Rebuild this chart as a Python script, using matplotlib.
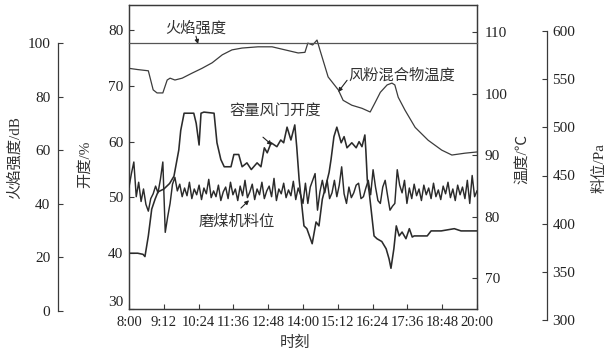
import matplotlib
matplotlib.use("Agg")
import matplotlib.pyplot as plt

plt.rcParams['font.family'] = ['Liberation Serif', 'Noto Sans CJK SC', 'DejaVu Sans']
plt.rcParams['axes.unicode_minus'] = False

# ---------------- data ----------------
tick_times = ["8:00", "9:12", "10:24", "11:36", "12:48", "14:00",
              "15:12", "16:24", "17:36", "18:48", "20:00"]

flame_times = ["8:00", "20:00"]
flame_db = [100, 100]

temp_times = ["8:00", "8:18", "8:40", "8:50", "8:58", "9:10", "9:19", "9:25", "9:35",
              "9:50", "10:10", "10:31", "10:52", "11:13", "11:33", "11:54", "12:27",
              "12:56", "13:23", "13:50", "14:04", "14:10", "14:20", "14:29", "14:35",
              "14:52", "15:13", "15:23", "15:41", "16:02", "16:19", "16:29", "16:40",
              "16:54", "17:04", "17:10", "17:17", "17:31", "17:52", "18:19", "18:47",
              "19:08", "19:35", "20:00"]
temp_c = [104.1, 103.9, 103.7, 100.6, 100.1, 100.1, 102.2, 102.5, 102.2,
          102.5, 103.3, 104.1, 105.0, 106.3, 107.1, 107.4, 107.6,
          107.6, 107.1, 106.6, 106.7, 108.2, 107.9, 108.7, 107.1,
          102.7, 100.6, 98.9, 98.1, 97.6, 97.0, 98.5, 100.2,
          101.4, 101.7, 101.4, 99.4, 97.3, 94.5, 92.4, 90.8,
          90.0, 90.3, 90.5]

valve_times = ["8:00", "8:18", "8:29", "8:33", "8:40", "8:47", "8:54", "9:00", "9:12",
               "9:24", "9:33", "9:43", "9:47", "9:54", "10:14", "10:19", "10:25",
               "10:29", "10:35", "10:56", "11:02", "11:10", "11:17", "11:31", "11:37",
               "11:47", "11:54", "12:04", "12:13", "12:25", "12:33", "12:40", "12:46",
               "12:54", "13:06", "13:14", "13:20", "13:27", "13:35", "13:43", "13:47",
               "13:52", "14:02", "14:08", "14:19", "14:27", "14:33", "14:40", "14:47",
               "14:54", "14:58", "15:04", "15:10", "15:19", "15:25", "15:31", "15:41",
               "15:50", "15:56", "16:02", "16:08", "16:10", "16:13", "16:17", "16:27",
               "16:33", "16:43", "16:52", "16:58", "17:02", "17:08", "17:13", "17:19",
               "17:25", "17:33", "17:40", "17:46", "17:50", "18:17", "18:25", "18:46",
               "19:13", "19:27", "20:00"]
valve_pct = [40.0, 40.0, 39.8, 39.4, 43.1, 47.9, 49.7, 51.0, 51.5,
             52.5, 53.8, 58.5, 62.0, 65.1, 65.1, 63.3, 59.4,
             65.1, 65.3, 65.1, 59.8, 56.8, 55.5, 55.5, 57.7,
             57.7, 55.5, 56.2, 55.0, 56.2, 55.5, 58.9, 58.0,
             59.8, 59.1, 60.3, 59.8, 62.6, 60.3, 63.0, 59.1,
             53.2, 44.9, 44.4, 41.7, 45.6, 44.9, 49.7, 52.0,
             54.5, 56.8, 60.9, 62.6, 59.8, 60.9, 58.9, 59.8,
             58.9, 60.0, 59.1, 61.2, 58.5, 53.2, 50.9, 43.1,
             42.6, 42.1, 40.8, 39.0, 37.3, 40.8, 44.9, 43.1,
             43.8, 42.6, 44.4, 42.9, 43.1, 43.1, 44.0, 44.0,
             44.4, 44.0, 44.0]

level_start = "8:00"
level_step_min = 5
level_pa = [438, 452, 464, 428, 443, 423, 436, 420, 413, 426, 431, 439,
            432, 446, 464, 391, 407, 421, 441, 448, 434, 441, 428, 437,
            429, 443, 426, 436, 430, 440, 425, 437, 431, 446, 427, 434,
            428, 440, 424, 433, 438, 426, 443, 430, 436, 424, 439, 429,
            445, 427, 433, 441, 425, 436, 430, 443, 426, 434, 439, 428,
            447, 424, 436, 431, 442, 427, 435, 429, 444, 425, 437, 430,
            421, 442, 421, 438, 445, 452, 414, 433, 445, 432, 445, 426,
            432, 445, 428, 440, 459, 431, 421, 438, 427, 432, 440, 442,
            426, 428, 437, 445, 430, 456, 438, 424, 421, 438, 445, 429,
            414, 418, 421, 456, 440, 432, 445, 421, 437, 426, 441, 429,
            436, 424, 440, 430, 437, 426, 442, 428, 435, 425, 439, 431,
            443, 427, 436, 424, 440, 430, 438, 426, 445, 421, 450, 428,
            434]


def hrs(s):
    h, m = s.split(":")
    return int(h) + int(m) / 60.0


tick_x = [hrs(s) for s in tick_times]
flame_x = [hrs(s) for s in flame_times]
temp_x = [hrs(s) for s in temp_times]
valve_x = [hrs(s) for s in valve_times]
level_x = [hrs(level_start) + i * level_step_min / 60.0 for i in range(len(level_pa))]

# ---------------- layout ----------------
W, H = 606, 356
fig = plt.figure(figsize=(W / 100, H / 100), dpi=100)
fig.patch.set_facecolor('white')


def rect(l, t, r, b):
    return [l / W, 1 - b / H, (r - l) / W, (b - t) / H]


INK = '#2b2b2b'
SPINE = '#3a3a3a'
XFS = 10.5
YFS = 11

ax = fig.add_axes(rect(129, 5, 477, 309))
axT = ax.twinx()
axF = fig.add_axes(rect(129, 43, 477, 311), sharex=ax)
axP = fig.add_axes(rect(129, 31, 477, 320), sharex=ax)
for a in (axF, axP):
    a.patch.set_visible(False)
    for s in a.spines.values():
        s.set_visible(False)
    a.xaxis.set_visible(False)

for s in ax.spines.values():
    s.set_color(SPINE)
    s.set_linewidth(0.9)
for s in axT.spines.values():
    s.set_color(SPINE)
    s.set_linewidth(0.9)

# main (opening %)
ax.set_xlim(8, 20)
ax.set_ylim(30, 84.5)
ax.set_xticks(tick_x)
ax.set_xticklabels(tick_times)
ax.set_yticks([30, 40, 50, 60, 70, 80])
ax.tick_params(axis='x', direction='in', length=3.5, width=0.8, colors=SPINE,
               labelsize=XFS, pad=5, labelcolor='#222')
ax.tick_params(axis='y', direction='in', length=3.5, width=0.8, colors=SPINE,
               labelsize=YFS, pad=4, labelcolor='#222', right=False)
ax.get_yticklabels()[0].set_va('bottom')

# temperature
axT.set_ylim(64.96, 114.4)
axT.set_yticks([70, 80, 90, 100, 110])
axT.tick_params(axis='y', direction='in', length=3.5, width=0.8, colors=SPINE,
                labelsize=YFS, pad=5.5, labelcolor='#222')

# flame intensity
axF.set_ylim(0, 100)
axF.set_yticks([0, 20, 40, 60, 80, 100])
axF.spines['left'].set_visible(True)
axF.spines['left'].set_position(('outward', 71 * 0.72))
axF.spines['left'].set_color(SPINE)
axF.spines['left'].set_linewidth(0.9)
axF.yaxis.set_ticks_position('left')
axF.tick_params(axis='y', direction='in', length=3.5, width=0.8, colors=SPINE,
                labelsize=YFS, pad=5.5, labelcolor='#222')

# coal level
axP.set_ylim(300, 600)
axP.set_yticks([300, 350, 400, 450, 500, 550, 600])
axP.spines['right'].set_visible(True)
axP.spines['right'].set_position(('outward', 70 * 0.72))
axP.spines['right'].set_color(SPINE)
axP.spines['right'].set_linewidth(0.9)
axP.yaxis.set_ticks_position('right')
axP.yaxis.set_label_position('right')
axP.tick_params(axis='y', direction='in', length=3.5, width=0.8, colors=SPINE,
                labelsize=YFS, pad=4, labelcolor='#222')

# ---------------- lines ----------------
axF.plot(flame_x, flame_db, color='#555555', lw=0.9, clip_on=False)
axT.plot(temp_x, temp_c, color='#3c3c3c', lw=0.9)
ax.plot(valve_x, valve_pct, color=INK, lw=1.15)
axP.plot(level_x, level_pa, color=INK, lw=1.05)

# ---------------- labels ----------------
LBL = dict(fontsize=11, color='#333333')
fig.text(15 / W, 1 - 158 / H, '火焰强度/dB', rotation=90, ha='center', va='center', **LBL)
fig.text(85 / W, 1 - 164 / H, '开度/%', rotation=90, ha='center', va='center', **LBL)
fig.text(522 / W, 1 - 159 / H, '温度/℃', rotation=90, ha='center', va='center', **LBL)
fig.text(600 / W, 1 - 168 / H, '料位/Pa', rotation=90, ha='center', va='center', **LBL)
fig.text(295 / W, 1 - 343 / H, '时刻', ha='center', va='center', **LBL)

# ---------------- annotations (main axis coords: hours, %) ----------------
ARW = dict(arrowstyle='-|>', lw=0.8, color='#222222', mutation_scale=6, shrinkA=0, shrinkB=0)
ax.annotate('', xy=(10.38, 77.5), xytext=(10.31, 78.9), arrowprops=ARW, annotation_clip=False)
ax.text(10.31, 80.2, '火焰强度', fontsize=11, color='#333333', ha='center', va='center')
ax.annotate('', xy=(15.21, 68.9), xytext=(15.52, 71.0), arrowprops=ARW, annotation_clip=False)
ax.text(17.41, 71.9, '风粉混合物温度', fontsize=11, color='#333333', ha='center', va='center')
ax.annotate('', xy=(12.93, 59.4), xytext=(12.62, 60.8), arrowprops=ARW, annotation_clip=False)
ax.text(13.03, 65.6, '容量风门开度', fontsize=11, color='#333333', ha='center', va='center')
ax.annotate('', xy=(12.14, 49.5), xytext=(11.86, 48.1), arrowprops=ARW, annotation_clip=False)
ax.text(11.72, 45.6, '磨煤机料位', fontsize=11, color='#333333', ha='center', va='center')

fig.savefig('out.png', dpi=100)
